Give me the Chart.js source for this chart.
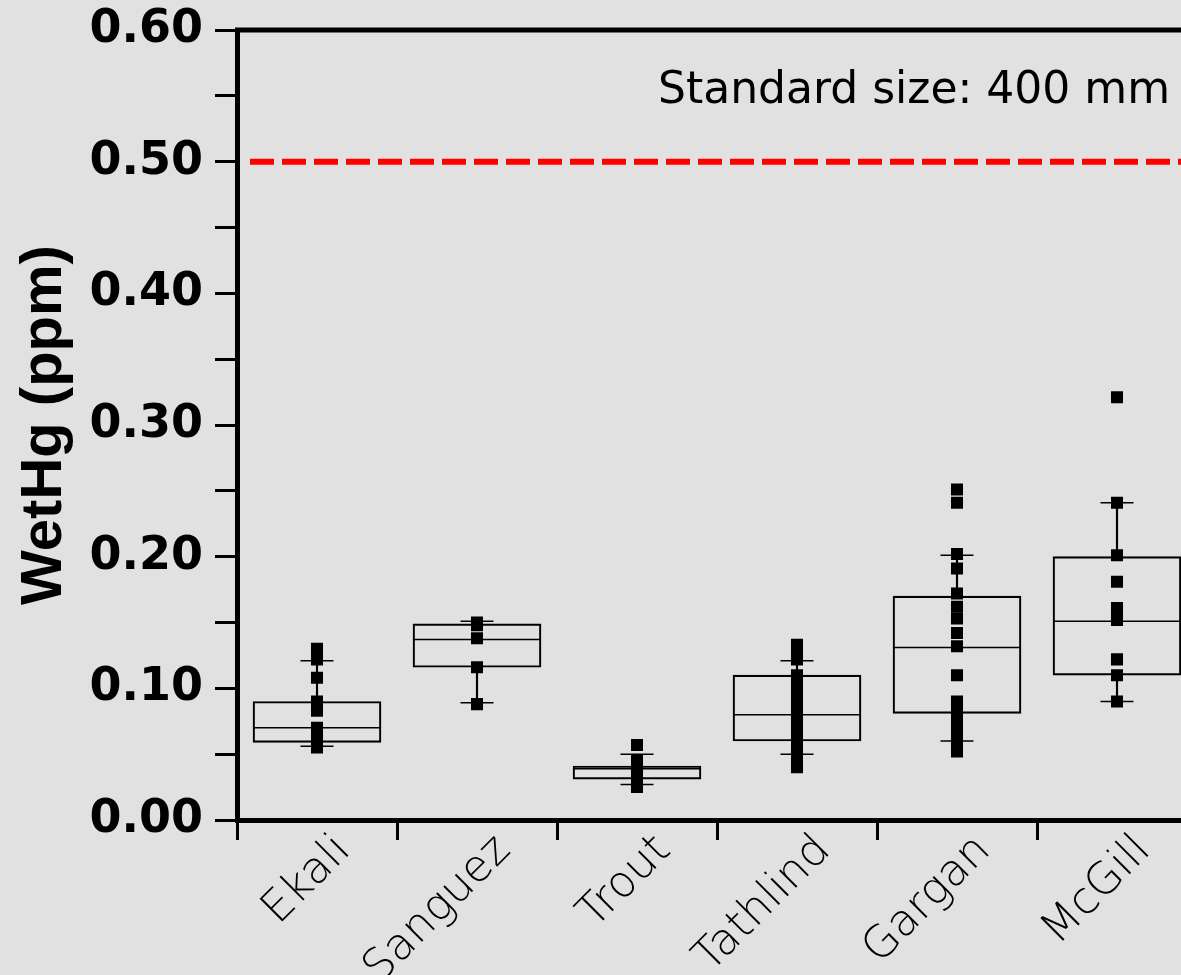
<!DOCTYPE html>
<html>
<head>
<meta charset="utf-8">
<script src="https://cdn.jsdelivr.net/npm/chart.js@4"></script>
<style>
  html, body { margin: 0; padding: 0; background: #e1e1e1; overflow: hidden; }
  #chartContainer { position: absolute; left: 0; top: 0; width: 1197px; height: 975px; }
</style>
</head>
<body>
<div id="chartContainer"><canvas id="myChart"></canvas></div>
<script>
const categories = ["Ekali", "Sanguez", "Trout", "Tathlind", "Gargan", "McGill"];

// box summary per lake
const q1 = [0.059, 0.116, 0.031, 0.060, 0.081, 0.110];
const median = [0.070, 0.137, 0.039, 0.080, 0.131, 0.151];
const q3 = [0.090, 0.149, 0.041, 0.110, 0.170, 0.200];
const whiskerLow = [0.056, 0.089, 0.027, 0.050, 0.060, 0.090];
const whiskerHigh = [0.121, 0.151, 0.050, 0.121, 0.201, 0.241];

// individual fish
const ekaliPts = [0.130, 0.122, 0.108, 0.090, 0.083, 0.070, 0.063, 0.055];
const sanguezPts = [0.150, 0.148, 0.138, 0.116, 0.088];
const troutPts = [0.057, 0.045, 0.041, 0.037, 0.033, 0.029, 0.025];
const tathlindPts = [0.133, 0.127, 0.122, 0.110, 0.104, 0.098, 0.092, 0.086, 0.080, 0.075, 0.070, 0.064, 0.058, 0.052, 0.046, 0.040];
const garganPts = [0.251, 0.241, 0.202, 0.191, 0.172, 0.162, 0.153, 0.142, 0.132, 0.110, 0.090, 0.085, 0.080, 0.075, 0.070, 0.065, 0.060, 0.055, 0.052];
const mcgillPts = [0.321, 0.241, 0.201, 0.181, 0.161, 0.152, 0.122, 0.110, 0.090];

const standardLimit = 0.5;
const standardLabel = "Standard size: 400 mm";

const allPts = [ekaliPts, sanguezPts, troutPts, tathlindPts, garganPts, mcgillPts];
const pointData = [];
allPts.forEach((arr, i) => arr.forEach((v) => pointData.push({ x: categories[i], y: v })));

const refLine = {
  id: "refLine",
  afterDatasetsDraw(chart) {
    const { ctx, chartArea, scales } = chart;
    const y = scales.y;
    ctx.save();
    // top frame line
    ctx.strokeStyle = "#000";
    ctx.lineWidth = 5;
    ctx.beginPath();
    ctx.moveTo(chartArea.left - 2, chartArea.top);
    ctx.lineTo(chartArea.right, chartArea.top);
    ctx.stroke();
    // dashed standard
    const yy = y.getPixelForValue(standardLimit);
    ctx.strokeStyle = "#ff0000";
    ctx.lineWidth = 6;
    ctx.setLineDash([24, 8]);
    ctx.beginPath();
    ctx.moveTo(chartArea.left + 13, yy);
    ctx.lineTo(chartArea.right, yy);
    ctx.stroke();
    ctx.setLineDash([]);
    ctx.fillStyle = "#000";
    ctx.font = "44px 'DejaVu Sans'";
    ctx.textAlign = "right";
    ctx.textBaseline = "middle";
    ctx.fillText(standardLabel, chartArea.right - 27, y.getPixelForValue(0.553));
    ctx.restore();
  },
};

const chartCanvas = document.querySelector("#myChart");

new Chart(chartCanvas, {
  type: "bar",
  data: {
    labels: categories,
    datasets: [
      {
        type: "line",
        data: pointData,
        showLine: false,
        pointStyle: "rect",
        pointRadius: 8.5,
        backgroundColor: "#000",
        borderColor: "#000",
        borderWidth: 0,
      },
      {
        type: "line",
        data: median,
        showLine: false,
        pointStyle: "line",
        pointRadius: 64,
        borderColor: "#000",
        pointBorderWidth: 1.5,
      },
      {
        type: "line",
        data: whiskerHigh,
        showLine: false,
        pointStyle: "line",
        pointRadius: 16.5,
        borderColor: "#000",
        pointBorderWidth: 1.5,
      },
      {
        type: "line",
        data: whiskerLow,
        showLine: false,
        pointStyle: "line",
        pointRadius: 16.5,
        borderColor: "#000",
        pointBorderWidth: 1.5,
      },
      {
        data: q3.map((v, i) => [v, whiskerHigh[i]]),
        barThickness: 1.5,
        backgroundColor: "#000",
        borderWidth: 0,
        grouped: false,
      },
      {
        data: q1.map((v, i) => [whiskerLow[i], v]),
        barThickness: 1.5,
        backgroundColor: "#000",
        borderWidth: 0,
        grouped: false,
      },
      {
        data: q1.map((v, i) => [v, q3[i]]),
        barThickness: 128,
        backgroundColor: "rgba(0,0,0,0)",
        borderColor: "#000",
        borderWidth: 1.5,
        borderSkipped: false,
        grouped: false,
      },
    ],
  },
  options: {
    responsive: true,
    maintainAspectRatio: false,
    animation: false,
    layout: { autoPadding: false, padding: { top: 30, left: 0, right: 0, bottom: 0 } },
    plugins: { legend: { display: false }, tooltip: { enabled: false } },
    scales: {
      x: {
        type: "category",
        offset: true,
        grid: {
          offset: true,
          drawOnChartArea: false,
          drawTicks: true,
          tickLength: 20,
          tickWidth: 3,
          tickColor: "#000",
        },
        border: { display: true, color: "#000", width: 5 },
        ticks: {
          autoSkip: false,
          minRotation: 45,
          maxRotation: 45,
          padding: -15,
          labelOffset: 27,
          color: "#000",
          font: { family: "'DejaVu Sans'", size: 44, weight: 200 },
        },
        afterFit(scale) {
          scale.height = 155;
          scale.paddingLeft = 0;
          scale.paddingRight = 0;
        },
      },
      y: {
        min: 0,
        max: 0.6,
        grid: {
          drawOnChartArea: false,
          drawTicks: true,
          tickLength: 22,
          tickWidth: 3,
          tickColor: "#000",
        },
        border: { display: true, color: "#000", width: 5 },
        ticks: {
          stepSize: 0.05,
          padding: 12,
          color: "#000",
          font: { family: "'DejaVu Sans'", size: 46, weight: "bold" },
          callback: (v) => (Math.abs(v * 10 - Math.round(v * 10)) < 1e-6 ? v.toFixed(2) : ""),
        },
        title: {
          display: true,
          text: "WetHg (ppm)",
          color: "#000",
          padding: { top: 10, bottom: 0 },
          font: { family: "'Liberation Sans'", size: 58, weight: "bold" },
        },
        afterFit(scale) {
          scale.width = 237;
          scale.paddingTop = 0;
          scale.paddingBottom = 0;
        },
      },
    },
  },
  plugins: [refLine],
});
</script>
</body>
</html>
